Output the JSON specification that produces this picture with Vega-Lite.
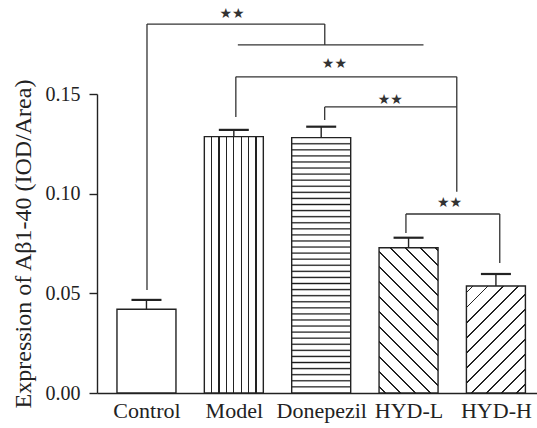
{
  "$schema": "https://vega.github.io/schema/vega-lite/v6.json",
  "autosize": {"type": "none"},
  "padding": {"left": 97, "top": 94, "right": 0, "bottom": 35},
  "width": 440,
  "height": 299,
  "background": "#ffffff",
  "config": {
    "view": {"stroke": null},
    "axis": {"labelFont": "Liberation Serif", "titleFont": "Liberation Serif", "labelColor": "#222", "titleColor": "#222", "domainColor": "#222", "tickColor": "#222", "grid": false}
  },
  "datasets": {
    "bars": [
      {"group": "Control", "pos": 1, "mean": 0.042, "upper": 0.0467},
      {"group": "Model", "pos": 2, "mean": 0.1286, "upper": 0.132},
      {"group": "Donepezil", "pos": 3, "mean": 0.1281, "upper": 0.1336},
      {"group": "HYD-L", "pos": 4, "mean": 0.0729, "upper": 0.0779},
      {"group": "HYD-H", "pos": 5, "mean": 0.0537, "upper": 0.0597}
    ],
    "brackets": [
      {"x1": 1.006, "x2": 3.041, "y1": 0.1851, "y2": 0.1851},
      {"x1": 1.006, "x2": 1.006, "y1": 0.1851, "y2": 0.0517},
      {"x1": 3.041, "x2": 3.041, "y1": 0.1851, "y2": 0.1746},
      {"x1": 2.046, "x2": 4.171, "y1": 0.1746, "y2": 0.1746},
      {"x1": 2.023, "x2": 4.552, "y1": 0.1586, "y2": 0.1586},
      {"x1": 2.023, "x2": 2.023, "y1": 0.1586, "y2": 0.1385},
      {"x1": 4.552, "x2": 4.552, "y1": 0.1586, "y2": 0.1009},
      {"x1": 3.04, "x2": 4.552, "y1": 0.1435, "y2": 0.1435},
      {"x1": 3.04, "x2": 3.04, "y1": 0.1435, "y2": 0.137},
      {"x1": 3.97, "x2": 5.044, "y1": 0.0898, "y2": 0.0898},
      {"x1": 3.97, "x2": 3.97, "y1": 0.0898, "y2": 0.0803},
      {"x1": 5.044, "x2": 5.044, "y1": 0.0898, "y2": 0.0652}
    ],
    "stars": [
      {"x": 1.979, "y": 0.19, "label": "★★"},
      {"x": 3.151, "y": 0.1649, "label": "★★"},
      {"x": 3.79, "y": 0.1469, "label": "★★"},
      {"x": 4.47, "y": 0.0953, "label": "★★"}
    ]
  },
  "layer": [
    {
      "data": {"name": "bars"},
      "transform": [{"filter": "datum.group === 'Control'"}],
      "mark": {"type": "bar", "orient": "vertical", "width": 59, "fill": "#ffffff", "stroke": "#222", "strokeWidth": 1.4},
      "encoding": {
        "x": {"field": "pos", "type": "quantitative", "scale": {"domain": [0.491, 5.413], "nice": false, "zero": false},
          "axis": {"values": [1, 2, 3, 4, 5], "labelExpr": "['Control','Model','Donepezil','HYD-L','HYD-H'][datum.value - 1]", "ticks": false, "labelPadding": 7, "labelFontSize": 22, "domainWidth": 1.4, "title": null, "labelFlush": false, "labelOverlap": false}},
        "y": {"field": "mean", "type": "quantitative", "scale": {"domain": [0, 0.15], "nice": false},
          "axis": {"values": [0, 0.05, 0.1, 0.15], "format": ".2f", "tickSize": 8, "tickWidth": 1.4, "domainWidth": 1.4, "labelPadding": 9, "labelFontSize": 20, "title": "Expression of Aβ1-40 (IOD/Area)", "titleFontSize": 24, "titleFontWeight": "normal", "titlePadding": 10}}
      }
    },
    {
      "data": {"name": "bars"},
      "transform": [{"filter": "datum.group === 'Model'"}],
      "mark": {"type": "bar", "orient": "vertical", "width": 59, "stroke": "#222", "strokeWidth": 1.4,
        "fill": {"gradient": "linear", "x1": 0, "y1": 0, "x2": 1, "y2": 0, "stops": [
          {"offset": 0, "color": "#fff"},
          {"offset": 0.114, "color": "#fff"}, {"offset": 0.114, "color": "#222"}, {"offset": 0.136, "color": "#222"}, {"offset": 0.136, "color": "#fff"},
          {"offset": 0.239, "color": "#fff"}, {"offset": 0.239, "color": "#222"}, {"offset": 0.261, "color": "#222"}, {"offset": 0.261, "color": "#fff"},
          {"offset": 0.364, "color": "#fff"}, {"offset": 0.364, "color": "#222"}, {"offset": 0.386, "color": "#222"}, {"offset": 0.386, "color": "#fff"},
          {"offset": 0.489, "color": "#fff"}, {"offset": 0.489, "color": "#222"}, {"offset": 0.511, "color": "#222"}, {"offset": 0.511, "color": "#fff"},
          {"offset": 0.614, "color": "#fff"}, {"offset": 0.614, "color": "#222"}, {"offset": 0.636, "color": "#222"}, {"offset": 0.636, "color": "#fff"},
          {"offset": 0.739, "color": "#fff"}, {"offset": 0.739, "color": "#222"}, {"offset": 0.761, "color": "#222"}, {"offset": 0.761, "color": "#fff"},
          {"offset": 0.864, "color": "#fff"}, {"offset": 0.864, "color": "#222"}, {"offset": 0.886, "color": "#222"}, {"offset": 0.886, "color": "#fff"},
          {"offset": 1, "color": "#fff"}
        ]}},
      "encoding": {
        "x": {"field": "pos", "type": "quantitative", "scale": {"domain": [0.491, 5.413], "nice": false, "zero": false}},
        "y": {"field": "mean", "type": "quantitative", "scale": {"domain": [0, 0.15], "nice": false}}
      }
    },
    {
      "data": {"name": "bars"},
      "transform": [{"filter": "datum.group === 'Donepezil'"}],
      "mark": {"type": "bar", "orient": "vertical", "width": 59, "stroke": "#222", "strokeWidth": 1.4,
        "fill": {"gradient": "linear", "x1": 0, "y1": 0, "x2": 0, "y2": 1, "stops": [
          {"offset": 0, "color": "#fff"},
          {"offset": 0.0188, "color": "#fff"}, {"offset": 0.0238, "color": "#1a1a1a"}, {"offset": 0.0288, "color": "#fff"},
          {"offset": 0.0426, "color": "#fff"}, {"offset": 0.0476, "color": "#1a1a1a"}, {"offset": 0.0526, "color": "#fff"},
          {"offset": 0.0664, "color": "#fff"}, {"offset": 0.0714, "color": "#1a1a1a"}, {"offset": 0.0764, "color": "#fff"},
          {"offset": 0.0902, "color": "#fff"}, {"offset": 0.0952, "color": "#1a1a1a"}, {"offset": 0.1002, "color": "#fff"},
          {"offset": 0.1140, "color": "#fff"}, {"offset": 0.1190, "color": "#1a1a1a"}, {"offset": 0.1240, "color": "#fff"},
          {"offset": 0.1378, "color": "#fff"}, {"offset": 0.1428, "color": "#1a1a1a"}, {"offset": 0.1478, "color": "#fff"},
          {"offset": 0.1616, "color": "#fff"}, {"offset": 0.1666, "color": "#1a1a1a"}, {"offset": 0.1716, "color": "#fff"},
          {"offset": 0.1854, "color": "#fff"}, {"offset": 0.1904, "color": "#1a1a1a"}, {"offset": 0.1954, "color": "#fff"},
          {"offset": 0.2092, "color": "#fff"}, {"offset": 0.2142, "color": "#1a1a1a"}, {"offset": 0.2192, "color": "#fff"},
          {"offset": 0.2330, "color": "#fff"}, {"offset": 0.2380, "color": "#1a1a1a"}, {"offset": 0.2430, "color": "#fff"},
          {"offset": 0.2568, "color": "#fff"}, {"offset": 0.2618, "color": "#1a1a1a"}, {"offset": 0.2668, "color": "#fff"},
          {"offset": 0.2806, "color": "#fff"}, {"offset": 0.2856, "color": "#1a1a1a"}, {"offset": 0.2906, "color": "#fff"},
          {"offset": 0.3044, "color": "#fff"}, {"offset": 0.3094, "color": "#1a1a1a"}, {"offset": 0.3144, "color": "#fff"},
          {"offset": 0.3282, "color": "#fff"}, {"offset": 0.3332, "color": "#1a1a1a"}, {"offset": 0.3382, "color": "#fff"},
          {"offset": 0.3520, "color": "#fff"}, {"offset": 0.3570, "color": "#1a1a1a"}, {"offset": 0.3620, "color": "#fff"},
          {"offset": 0.3758, "color": "#fff"}, {"offset": 0.3808, "color": "#1a1a1a"}, {"offset": 0.3858, "color": "#fff"},
          {"offset": 0.3996, "color": "#fff"}, {"offset": 0.4046, "color": "#1a1a1a"}, {"offset": 0.4096, "color": "#fff"},
          {"offset": 0.4234, "color": "#fff"}, {"offset": 0.4284, "color": "#1a1a1a"}, {"offset": 0.4334, "color": "#fff"},
          {"offset": 0.4472, "color": "#fff"}, {"offset": 0.4522, "color": "#1a1a1a"}, {"offset": 0.4572, "color": "#fff"},
          {"offset": 0.4710, "color": "#fff"}, {"offset": 0.4760, "color": "#1a1a1a"}, {"offset": 0.4810, "color": "#fff"},
          {"offset": 0.4948, "color": "#fff"}, {"offset": 0.4998, "color": "#1a1a1a"}, {"offset": 0.5048, "color": "#fff"},
          {"offset": 0.5186, "color": "#fff"}, {"offset": 0.5236, "color": "#1a1a1a"}, {"offset": 0.5286, "color": "#fff"},
          {"offset": 0.5424, "color": "#fff"}, {"offset": 0.5474, "color": "#1a1a1a"}, {"offset": 0.5524, "color": "#fff"},
          {"offset": 0.5662, "color": "#fff"}, {"offset": 0.5712, "color": "#1a1a1a"}, {"offset": 0.5762, "color": "#fff"},
          {"offset": 0.5900, "color": "#fff"}, {"offset": 0.5950, "color": "#1a1a1a"}, {"offset": 0.6000, "color": "#fff"},
          {"offset": 0.6138, "color": "#fff"}, {"offset": 0.6188, "color": "#1a1a1a"}, {"offset": 0.6238, "color": "#fff"},
          {"offset": 0.6376, "color": "#fff"}, {"offset": 0.6426, "color": "#1a1a1a"}, {"offset": 0.6476, "color": "#fff"},
          {"offset": 0.6614, "color": "#fff"}, {"offset": 0.6664, "color": "#1a1a1a"}, {"offset": 0.6714, "color": "#fff"},
          {"offset": 0.6852, "color": "#fff"}, {"offset": 0.6902, "color": "#1a1a1a"}, {"offset": 0.6952, "color": "#fff"},
          {"offset": 0.7090, "color": "#fff"}, {"offset": 0.7140, "color": "#1a1a1a"}, {"offset": 0.7190, "color": "#fff"},
          {"offset": 0.7328, "color": "#fff"}, {"offset": 0.7378, "color": "#1a1a1a"}, {"offset": 0.7428, "color": "#fff"},
          {"offset": 0.7566, "color": "#fff"}, {"offset": 0.7616, "color": "#1a1a1a"}, {"offset": 0.7666, "color": "#fff"},
          {"offset": 0.7804, "color": "#fff"}, {"offset": 0.7854, "color": "#1a1a1a"}, {"offset": 0.7904, "color": "#fff"},
          {"offset": 0.8042, "color": "#fff"}, {"offset": 0.8092, "color": "#1a1a1a"}, {"offset": 0.8142, "color": "#fff"},
          {"offset": 0.8280, "color": "#fff"}, {"offset": 0.8330, "color": "#1a1a1a"}, {"offset": 0.8380, "color": "#fff"},
          {"offset": 0.8518, "color": "#fff"}, {"offset": 0.8568, "color": "#1a1a1a"}, {"offset": 0.8618, "color": "#fff"},
          {"offset": 0.8756, "color": "#fff"}, {"offset": 0.8806, "color": "#1a1a1a"}, {"offset": 0.8856, "color": "#fff"},
          {"offset": 0.8994, "color": "#fff"}, {"offset": 0.9044, "color": "#1a1a1a"}, {"offset": 0.9094, "color": "#fff"},
          {"offset": 0.9232, "color": "#fff"}, {"offset": 0.9282, "color": "#1a1a1a"}, {"offset": 0.9332, "color": "#fff"},
          {"offset": 0.9470, "color": "#fff"}, {"offset": 0.9520, "color": "#1a1a1a"}, {"offset": 0.9570, "color": "#fff"},
          {"offset": 0.9708, "color": "#fff"}, {"offset": 0.9758, "color": "#1a1a1a"}, {"offset": 0.9808, "color": "#fff"},
          {"offset": 1, "color": "#fff"}
        ]}},
      "encoding": {
        "x": {"field": "pos", "type": "quantitative", "scale": {"domain": [0.491, 5.413], "nice": false, "zero": false}},
        "y": {"field": "mean", "type": "quantitative", "scale": {"domain": [0, 0.15], "nice": false}}
      }
    },
    {
      "data": {"name": "bars"},
      "transform": [{"filter": "datum.group === 'HYD-L'"}],
      "mark": {"type": "bar", "orient": "vertical", "width": 59, "stroke": "#222", "strokeWidth": 1.4,
        "fill": {"gradient": "linear", "x1": 0, "y1": 1, "x2": 0.491, "y2": -0.207, "stops": [
          {"offset": 0, "color": "#fff"},
          {"offset": 0.0255, "color": "#fff"}, {"offset": 0.0255, "color": "#222"}, {"offset": 0.0345, "color": "#222"}, {"offset": 0.0345, "color": "#fff"},
          {"offset": 0.0991, "color": "#fff"}, {"offset": 0.0991, "color": "#222"}, {"offset": 0.1081, "color": "#222"}, {"offset": 0.1081, "color": "#fff"},
          {"offset": 0.1727, "color": "#fff"}, {"offset": 0.1727, "color": "#222"}, {"offset": 0.1817, "color": "#222"}, {"offset": 0.1817, "color": "#fff"},
          {"offset": 0.2463, "color": "#fff"}, {"offset": 0.2463, "color": "#222"}, {"offset": 0.2553, "color": "#222"}, {"offset": 0.2553, "color": "#fff"},
          {"offset": 0.3199, "color": "#fff"}, {"offset": 0.3199, "color": "#222"}, {"offset": 0.3289, "color": "#222"}, {"offset": 0.3289, "color": "#fff"},
          {"offset": 0.3935, "color": "#fff"}, {"offset": 0.3935, "color": "#222"}, {"offset": 0.4025, "color": "#222"}, {"offset": 0.4025, "color": "#fff"},
          {"offset": 0.4671, "color": "#fff"}, {"offset": 0.4671, "color": "#222"}, {"offset": 0.4761, "color": "#222"}, {"offset": 0.4761, "color": "#fff"},
          {"offset": 0.5407, "color": "#fff"}, {"offset": 0.5407, "color": "#222"}, {"offset": 0.5497, "color": "#222"}, {"offset": 0.5497, "color": "#fff"},
          {"offset": 0.6143, "color": "#fff"}, {"offset": 0.6143, "color": "#222"}, {"offset": 0.6233, "color": "#222"}, {"offset": 0.6233, "color": "#fff"},
          {"offset": 0.6879, "color": "#fff"}, {"offset": 0.6879, "color": "#222"}, {"offset": 0.6969, "color": "#222"}, {"offset": 0.6969, "color": "#fff"},
          {"offset": 0.7615, "color": "#fff"}, {"offset": 0.7615, "color": "#222"}, {"offset": 0.7705, "color": "#222"}, {"offset": 0.7705, "color": "#fff"},
          {"offset": 0.8351, "color": "#fff"}, {"offset": 0.8351, "color": "#222"}, {"offset": 0.8441, "color": "#222"}, {"offset": 0.8441, "color": "#fff"},
          {"offset": 0.9087, "color": "#fff"}, {"offset": 0.9087, "color": "#222"}, {"offset": 0.9177, "color": "#222"}, {"offset": 0.9177, "color": "#fff"},
          {"offset": 0.9823, "color": "#fff"}, {"offset": 0.9823, "color": "#222"}, {"offset": 0.9913, "color": "#222"}, {"offset": 0.9913, "color": "#fff"},
          {"offset": 1, "color": "#fff"}
        ]}},
      "encoding": {
        "x": {"field": "pos", "type": "quantitative", "scale": {"domain": [0.491, 5.413], "nice": false, "zero": false}},
        "y": {"field": "mean", "type": "quantitative", "scale": {"domain": [0, 0.15], "nice": false}}
      }
    },
    {
      "data": {"name": "bars"},
      "transform": [{"filter": "datum.group === 'HYD-H'"}],
      "mark": {"type": "bar", "orient": "vertical", "width": 59, "stroke": "#222", "strokeWidth": 1.4,
        "fill": {"gradient": "linear", "x1": 0, "y1": 0, "x2": 0.656, "y2": 1.19, "stops": [
          {"offset": 0, "color": "#fff"},
          {"offset": 0.0344, "color": "#fff"}, {"offset": 0.0344, "color": "#222"}, {"offset": 0.0456, "color": "#222"}, {"offset": 0.0456, "color": "#fff"},
          {"offset": 0.1249, "color": "#fff"}, {"offset": 0.1249, "color": "#222"}, {"offset": 0.1361, "color": "#222"}, {"offset": 0.1361, "color": "#fff"},
          {"offset": 0.2154, "color": "#fff"}, {"offset": 0.2154, "color": "#222"}, {"offset": 0.2266, "color": "#222"}, {"offset": 0.2266, "color": "#fff"},
          {"offset": 0.3059, "color": "#fff"}, {"offset": 0.3059, "color": "#222"}, {"offset": 0.3171, "color": "#222"}, {"offset": 0.3171, "color": "#fff"},
          {"offset": 0.3964, "color": "#fff"}, {"offset": 0.3964, "color": "#222"}, {"offset": 0.4076, "color": "#222"}, {"offset": 0.4076, "color": "#fff"},
          {"offset": 0.4869, "color": "#fff"}, {"offset": 0.4869, "color": "#222"}, {"offset": 0.4981, "color": "#222"}, {"offset": 0.4981, "color": "#fff"},
          {"offset": 0.5774, "color": "#fff"}, {"offset": 0.5774, "color": "#222"}, {"offset": 0.5886, "color": "#222"}, {"offset": 0.5886, "color": "#fff"},
          {"offset": 0.6679, "color": "#fff"}, {"offset": 0.6679, "color": "#222"}, {"offset": 0.6791, "color": "#222"}, {"offset": 0.6791, "color": "#fff"},
          {"offset": 0.7584, "color": "#fff"}, {"offset": 0.7584, "color": "#222"}, {"offset": 0.7696, "color": "#222"}, {"offset": 0.7696, "color": "#fff"},
          {"offset": 0.8489, "color": "#fff"}, {"offset": 0.8489, "color": "#222"}, {"offset": 0.8601, "color": "#222"}, {"offset": 0.8601, "color": "#fff"},
          {"offset": 0.9394, "color": "#fff"}, {"offset": 0.9394, "color": "#222"}, {"offset": 0.9506, "color": "#222"}, {"offset": 0.9506, "color": "#fff"},
          {"offset": 1, "color": "#fff"}
        ]}},
      "encoding": {
        "x": {"field": "pos", "type": "quantitative", "scale": {"domain": [0.491, 5.413], "nice": false, "zero": false}},
        "y": {"field": "mean", "type": "quantitative", "scale": {"domain": [0, 0.15], "nice": false}}
      }
    },
    {
      "data": {"name": "bars"},
      "mark": {"type": "rule", "color": "#222", "strokeWidth": 1.4},
      "encoding": {
        "x": {"field": "pos", "type": "quantitative", "scale": {"domain": [0.491, 5.413], "nice": false, "zero": false}},
        "y": {"field": "mean", "type": "quantitative", "scale": {"domain": [0, 0.15], "nice": false}},
        "y2": {"field": "upper"}
      }
    },
    {
      "data": {"name": "bars"},
      "mark": {"type": "tick", "orient": "horizontal", "color": "#222", "size": 30, "thickness": 2.2, "opacity": 1},
      "encoding": {
        "x": {"field": "pos", "type": "quantitative", "scale": {"domain": [0.491, 5.413], "nice": false, "zero": false}},
        "y": {"field": "upper", "type": "quantitative", "scale": {"domain": [0, 0.15], "nice": false}}
      }
    },
    {
      "data": {"name": "brackets"},
      "mark": {"type": "rule", "color": "#333", "strokeWidth": 1.3},
      "encoding": {
        "x": {"field": "x1", "type": "quantitative", "scale": {"domain": [0.491, 5.413], "nice": false, "zero": false}},
        "x2": {"field": "x2"},
        "y": {"field": "y1", "type": "quantitative", "scale": {"domain": [0, 0.15], "nice": false}},
        "y2": {"field": "y2"}
      }
    },
    {
      "data": {"name": "stars"},
      "mark": {"type": "text", "font": "DejaVu Sans", "fontSize": 14, "color": "#333", "baseline": "middle", "align": "center"},
      "encoding": {
        "x": {"field": "x", "type": "quantitative", "scale": {"domain": [0.491, 5.413], "nice": false, "zero": false}},
        "y": {"field": "y", "type": "quantitative", "scale": {"domain": [0, 0.15], "nice": false}},
        "text": {"field": "label"}
      }
    }
  ]
}
